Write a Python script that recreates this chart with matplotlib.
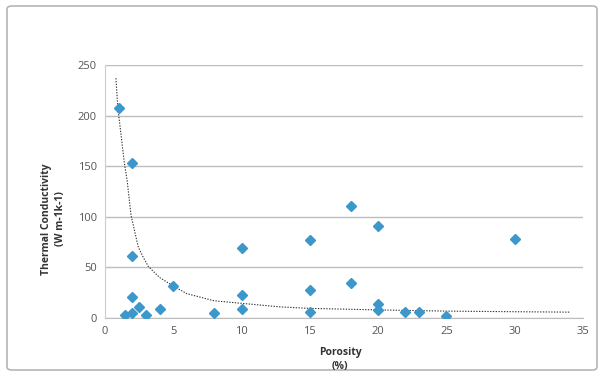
import numpy as np
import matplotlib.pyplot as plt
from matplotlib.patches import FancyBboxPatch

## datos
porosity = [1, 2, 2, 2, 1.5, 2, 2.5, 3, 4, 5, 8, 10, 10, 10,
            15, 15, 15, 18, 18, 20, 20, 20, 22, 23, 25, 30]
conductivity = [208, 153, 61, 21, 3, 4.5, 10.5, 3, 8.5, 31.5, 5, 8.5, 23, 69.5,
                77.5, 28, 6, 111, 35, 91, 13.5, 8, 5.5, 6, 2, 78.5]

## linea de tendencia
trend_x = [0.8, 0.93, 1.2, 1.41, 1.63, 1.9, 2.2, 2.44, 2.8, 3.17, 4, 5, 6,
           8, 10, 12.8, 15, 20, 25, 30, 34]
trend_y = [237, 209, 178, 154, 135, 102, 84, 70, 60, 51, 40, 31.6, 24,
           17, 14.5, 11, 9.5, 8, 6.8, 6.2, 5.8]

x_ticks = [0, 5, 10, 15, 20, 25, 30, 35]
y_ticks = [0, 50, 100, 150, 200, 250]

plt.rcParams['font.family'] = ['Open Sans', 'DejaVu Sans']

fig = plt.figure(figsize=(6.01, 3.77), dpi=100)
W, H = 601, 377

## marco exterior
frame = FancyBboxPatch((7 / W, 7 / H), 590 / W, 364 / H,
                       boxstyle="round,pad=0,rounding_size=0.008",
                       transform=fig.transFigure, fill=False,
                       edgecolor='#b5b5b5', linewidth=1.2)
fig.patches.append(frame)

ax = fig.add_axes([105 / W, 1 - 318 / H, (583 - 105) / W, (318 - 65) / H])

ax.plot(trend_x, trend_y, linestyle=(0, (1.2, 1.3)), color='#333333', linewidth=0.8, zorder=2)
ax.plot(porosity, conductivity, linestyle='none', marker='D', markersize=5.2,
        color='#3c97cb', markeredgecolor='#3c97cb', zorder=3)

ax.set_xlim(0, 35)
ax.set_ylim(0, 250)
ax.set_xticks(x_ticks)
ax.set_yticks(y_ticks)
ax.tick_params(axis='both', length=0, labelsize=8, labelcolor='#555555', pad=6)

ax.grid(axis='y', color='#bdbdbd', linewidth=1)
ax.set_axisbelow(True)
for s in ['top', 'right']:
    ax.spines[s].set_visible(False)
ax.spines['left'].set_color('#c8cce0')
ax.spines['bottom'].set_color('#bdbdbd')

fig.text(340 / W, 1 - 352 / H, 'Porosity', ha='center', va='center',
         fontsize=7.5, fontweight='bold', color='#333333')
fig.text(340 / W, 1 - 366 / H, '(%)', ha='center', va='center',
         fontsize=7.5, fontweight='bold', color='#333333')
fig.text(47 / W, 1 - 219 / H, 'Thermal Conductivity', ha='center', va='center',
         rotation=90, fontsize=7.5, fontweight='bold', color='#333333')
fig.text(61 / W, 1 - 219 / H, '(W m-1k-1)', ha='center', va='center',
         rotation=90, fontsize=7.5, fontweight='bold', color='#333333')

plt.savefig("out.png", dpi=100)
